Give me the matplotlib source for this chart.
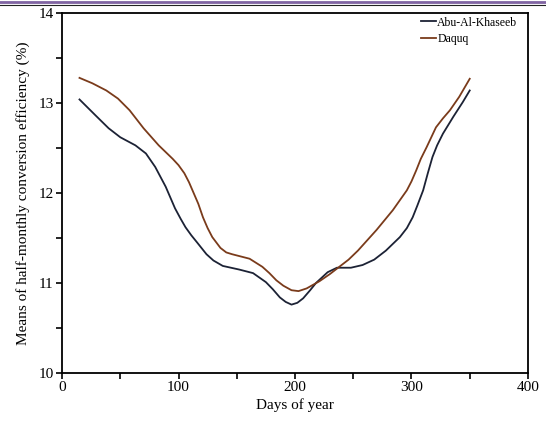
import matplotlib
matplotlib.use("Agg")
import matplotlib.pyplot as plt
from matplotlib.lines import Line2D
from matplotlib.ticker import MultipleLocator

plt.rcParams['font.family'] = ['Liberation Serif', 'DejaVu Serif']

# half-monthly means
abu_days = [15, 29, 40, 50, 63, 72, 80, 89, 93, 97, 102, 106, 111, 116, 124, 130,
            138, 152, 164, 175, 181, 187, 192, 197, 202, 207, 213, 218, 228, 236,
            248, 258, 268, 278, 290, 296, 301, 305, 310, 314, 318, 322, 327, 336,
            344, 350]
abu_eff = [13.04, 12.86, 12.72, 12.62, 12.53, 12.44, 12.29, 12.07, 11.95, 11.83,
           11.71, 11.62, 11.53, 11.45, 11.32, 11.25, 11.19, 11.15, 11.11, 11.01,
           10.93, 10.84, 10.79, 10.76, 10.78, 10.83, 10.92, 11.00, 11.12, 11.17,
           11.17, 11.20, 11.26, 11.36, 11.51, 11.61, 11.73, 11.86, 12.03, 12.22,
           12.40, 12.53, 12.66, 12.85, 13.01, 13.14]

daq_days = [15, 26, 38, 48, 58, 70, 83, 95, 100, 105, 109, 112, 117, 121, 125, 129,
            136, 141, 146, 161, 172, 178, 184, 190, 197, 203, 210, 221, 230, 238,
            246, 254, 270, 284, 296, 300, 304, 308, 313, 321, 327, 333, 341, 350]
daq_eff = [13.28, 13.22, 13.14, 13.05, 12.92, 12.72, 12.53, 12.38, 12.31, 12.22,
           12.12, 12.03, 11.88, 11.73, 11.61, 11.51, 11.39, 11.34, 11.32, 11.27,
           11.18, 11.11, 11.03, 10.97, 10.92, 10.91, 10.94, 11.02, 11.10, 11.18,
           11.26, 11.36, 11.59, 11.81, 12.03, 12.13, 12.25, 12.38, 12.51, 12.73,
           12.83, 12.92, 13.07, 13.27]

fig = plt.figure(figsize=(5.46, 4.36), dpi=100)
ax = fig.add_axes([0.1136, 0.1445, 0.8534, 0.8255])

# page header rule seen at the top of the reference
fig.add_artist(Line2D([0, 1], [0.9965, 0.9965], transform=fig.transFigure,
                      color='#8064a2', lw=2.0))
fig.add_artist(Line2D([0, 1], [0.9895, 0.9895], transform=fig.transFigure,
                      color='#222222', lw=0.8))

ax.plot(abu_days, abu_eff, color='#1c2235', lw=1.3, label='Abu-Al-Khaseeb',
        solid_joinstyle='round')
ax.plot(daq_days, daq_eff, color='#7a3b1b', lw=1.3, label='Daquq',
        solid_joinstyle='round')

ax.set_xlim(0, 400)
ax.set_ylim(10, 14)
ax.xaxis.set_major_locator(MultipleLocator(100))
ax.xaxis.set_minor_locator(MultipleLocator(50))
ax.yaxis.set_major_locator(MultipleLocator(1))
ax.yaxis.set_minor_locator(MultipleLocator(0.5))
ax.tick_params(which='both', direction='out', length=4, width=1.2, labelsize=11, pad=2)
for s in ax.spines.values():
    s.set_linewidth(1.3)

ax.set_xlabel("Days of year", fontsize=11, labelpad=3)
ax.set_ylabel("Means of half-monthly conversion efficiency (%)", fontsize=11, labelpad=6)

ax.legend(loc='upper right', bbox_to_anchor=(0.985, 1.0), frameon=False,
          fontsize=8.5, handlelength=1.3, handletextpad=0.1, labelspacing=0.35,
          borderaxespad=0.1, borderpad=0.2)

fig.savefig("out.png", dpi=100)
